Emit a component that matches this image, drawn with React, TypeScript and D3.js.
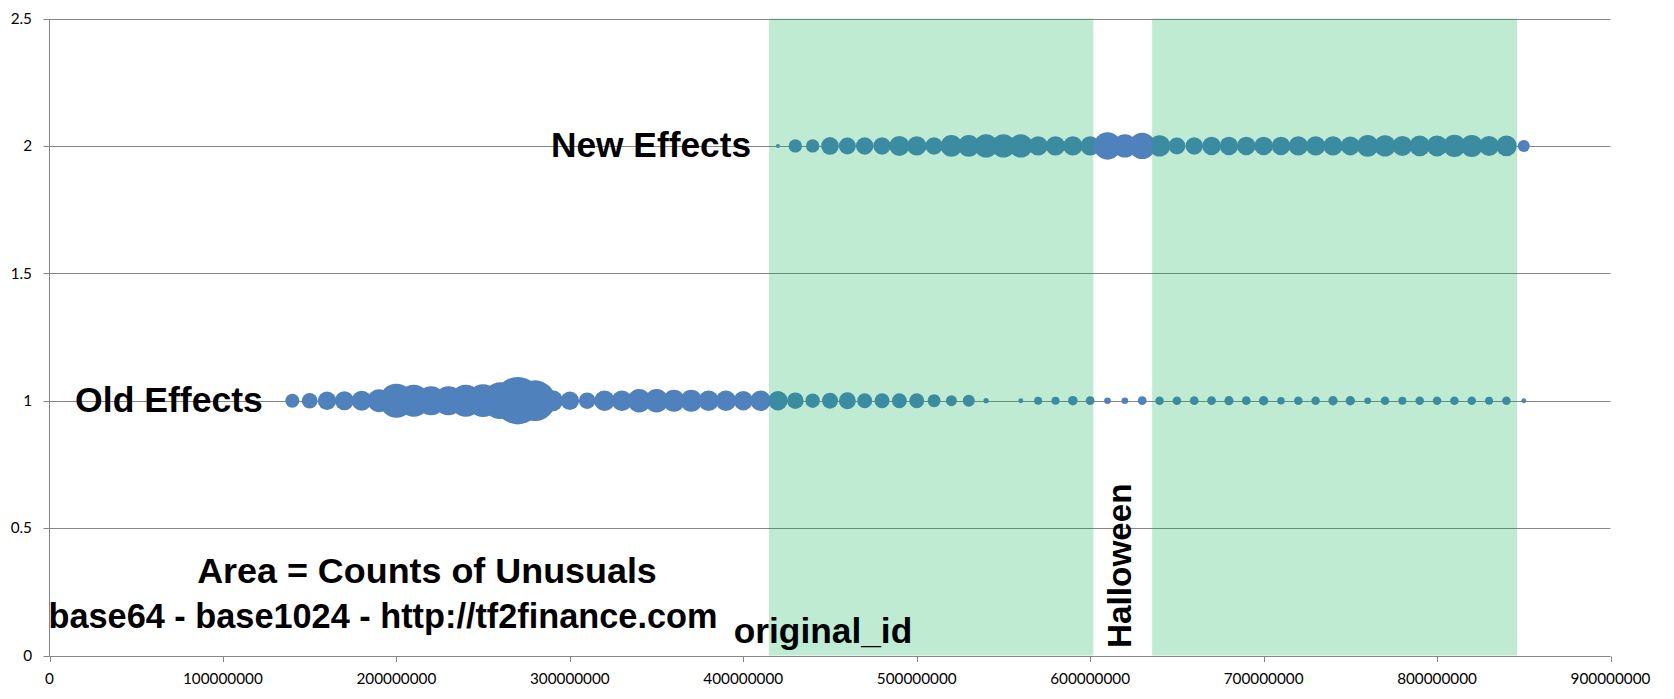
import React from "react";
import * as d3 from "d3";

// original_id values (in millions) and unusual counts for each effect group
const oldIds = [
  140, 150, 160, 170, 180, 190, 200, 210, 220, 230, 240, 250, 260, 270, 280, 290,
  300, 310, 320, 330, 340, 350, 360, 370, 380, 390, 400, 410, 420, 430, 440, 450,
  460, 470, 480, 490, 500, 510, 520, 530, 540, 560, 570, 580, 590, 600, 610, 620,
  630, 640, 650, 660, 670, 680, 690, 700, 710, 720, 730, 740, 750, 760, 770, 780,
  790, 800, 810, 820, 830, 840, 850,
];
const oldCounts = [
  49, 61, 85, 90, 100, 132, 289, 256, 210, 210, 256, 266, 335, 560, 412, 110,
  86, 69, 106, 106, 137, 137, 121, 121, 106, 106, 94, 106, 94, 69, 52, 64,
  72, 56, 56, 55, 55, 42, 30, 36, 7, 6, 16, 16, 23, 19, 11, 11,
  19, 18, 18, 19, 19, 21, 19, 22, 14, 18, 18, 22, 22, 11, 18, 16,
  18, 18, 18, 18, 16, 18, 6,
];

const newIds = [
  420, 430, 440, 450, 460, 470, 480, 490, 500, 510, 520, 530, 540, 550, 560, 570,
  580, 590, 600, 610, 620, 630, 640, 650, 660, 670, 680, 690, 700, 710, 720, 730,
  740, 750, 760, 770, 780, 790, 800, 810, 820, 830, 840, 850,
];
const newCounts = [
  4, 45, 45, 78, 72, 76, 76, 100, 94, 76, 117, 117, 137, 137, 137, 94,
  94, 94, 94, 188, 137, 174, 114, 72, 76, 85, 85, 85, 85, 85, 94, 94,
  94, 90, 117, 114, 100, 106, 110, 125, 121, 100, 106, 36,
];

// shaded original_id ranges (millions), split by the Halloween gap
const bandStarts = [414.8, 635.7];
const bandEnds = [601.8, 846.1];

const xTickValues = [0, 100000000, 200000000, 300000000, 400000000, 500000000, 600000000, 700000000, 800000000, 900000000];
const yTickValues = [0, 0.5, 1, 1.5, 2, 2.5];

const W = 1674;
const H = 699;
const left = 49.5;
const right = 1610.5;
const top = 18.5;
const bottom = 655.5;

const BLUE = "#4F81BD";
const GRID = "#868686";
const BOLD = "'Liberation Sans', Arial, sans-serif";
const TICKFONT = "Lato, 'Liberation Sans', sans-serif";

export default function App() {
  const x = d3.scaleLinear().domain([0, 900000000]).range([left, right]);
  const y = d3.scaleLinear().domain([0, 2.5]).range([bottom, top]);
  const r = d3.scaleSqrt().domain([0, 560]).range([0, 23.7]);

  const series = [
    { level: 1, ids: oldIds, counts: oldCounts },
    { level: 2, ids: newIds, counts: newCounts },
  ];

  const px = (v: number) => Math.round(v) + 0.5;

  return (
    <svg
      width={W}
      height={H}
      style={{ position: "absolute", left: 0, top: 0, background: "#fff" }}
    >
      {/* horizontal gridlines */}
      {yTickValues.map((v) => (
        <line key={"g" + v} x1={left} x2={right} y1={px(y(v))} y2={px(y(v))} stroke={GRID} strokeWidth={1} />
      ))}
      {/* y axis */}
      <line x1={left} x2={left} y1={px(y(2.5))} y2={px(y(0))} stroke={GRID} />
      {yTickValues.map((v) => (
        <g key={"yt" + v}>
          <line x1={left - 6} x2={left} y1={px(y(v))} y2={px(y(v))} stroke={GRID} />
          <text x={32} y={y(v) + 5.3} textAnchor="end" fontFamily={TICKFONT} fontSize={15.3} fill="#000">
            {String(v)}
          </text>
        </g>
      ))}
      {/* x ticks */}
      {xTickValues.map((v) => (
        <g key={"xt" + v}>
          <line x1={px(x(v))} x2={px(x(v))} y1={px(y(0))} y2={px(y(0)) + 5.5} stroke={GRID} />
          <text x={x(v)} y={684} textAnchor="middle" fontFamily={TICKFONT} fontSize={15.3} fill="#000">
            {String(v)}
          </text>
        </g>
      ))}

      {/* bubbles: area proportional to count */}
      {series.map((s) =>
        s.ids.map((id, i) => (
          <circle
            key={s.level + "-" + id}
            cx={x(id * 1e6)}
            cy={y(s.level)}
            r={r(s.counts[i])}
            fill={BLUE}
          />
        ))
      )}

      {/* translucent shading over the original_id ranges */}
      {bandStarts.map((b, i) => (
        <rect
          key={"band" + i}
          x={x(b * 1e6)}
          y={y(2.5)}
          width={x(bandEnds[i] * 1e6) - x(b * 1e6)}
          height={y(0) - y(2.5)}
          fill="#00B050"
          fillOpacity={0.25}
        />
      ))}

      {/* annotations */}
      <text x={651} y={y(2) + 11.5} textAnchor="middle" fontFamily={BOLD} fontWeight="bold" fontSize={35.3} fill="#000">
        New Effects
      </text>
      <text x={169} y={y(1) + 11.5} textAnchor="middle" fontFamily={BOLD} fontWeight="bold" fontSize={35.6} fill="#000">
        Old Effects
      </text>
      <text x={427} y={583} textAnchor="middle" fontFamily={BOLD} fontWeight="bold" fontSize={35.9} fill="#000">
        Area = Counts of Unusuals
      </text>
      <text x={383} y={628} textAnchor="middle" fontFamily={BOLD} fontWeight="bold" fontSize={34.3} fill="#000">
        base64 - base1024 - http://tf2finance.com
      </text>
      <text x={823} y={643} textAnchor="middle" fontFamily={BOLD} fontWeight="bold" fontSize={35.3} fill="#000">
        original_id
      </text>
      <text
        transform="translate(1131,648) rotate(-90)"
        textAnchor="start"
        fontFamily={BOLD}
        fontWeight="bold"
        fontSize={33.3}
        fill="#000"
      >
        Halloween
      </text>
    </svg>
  );
}
